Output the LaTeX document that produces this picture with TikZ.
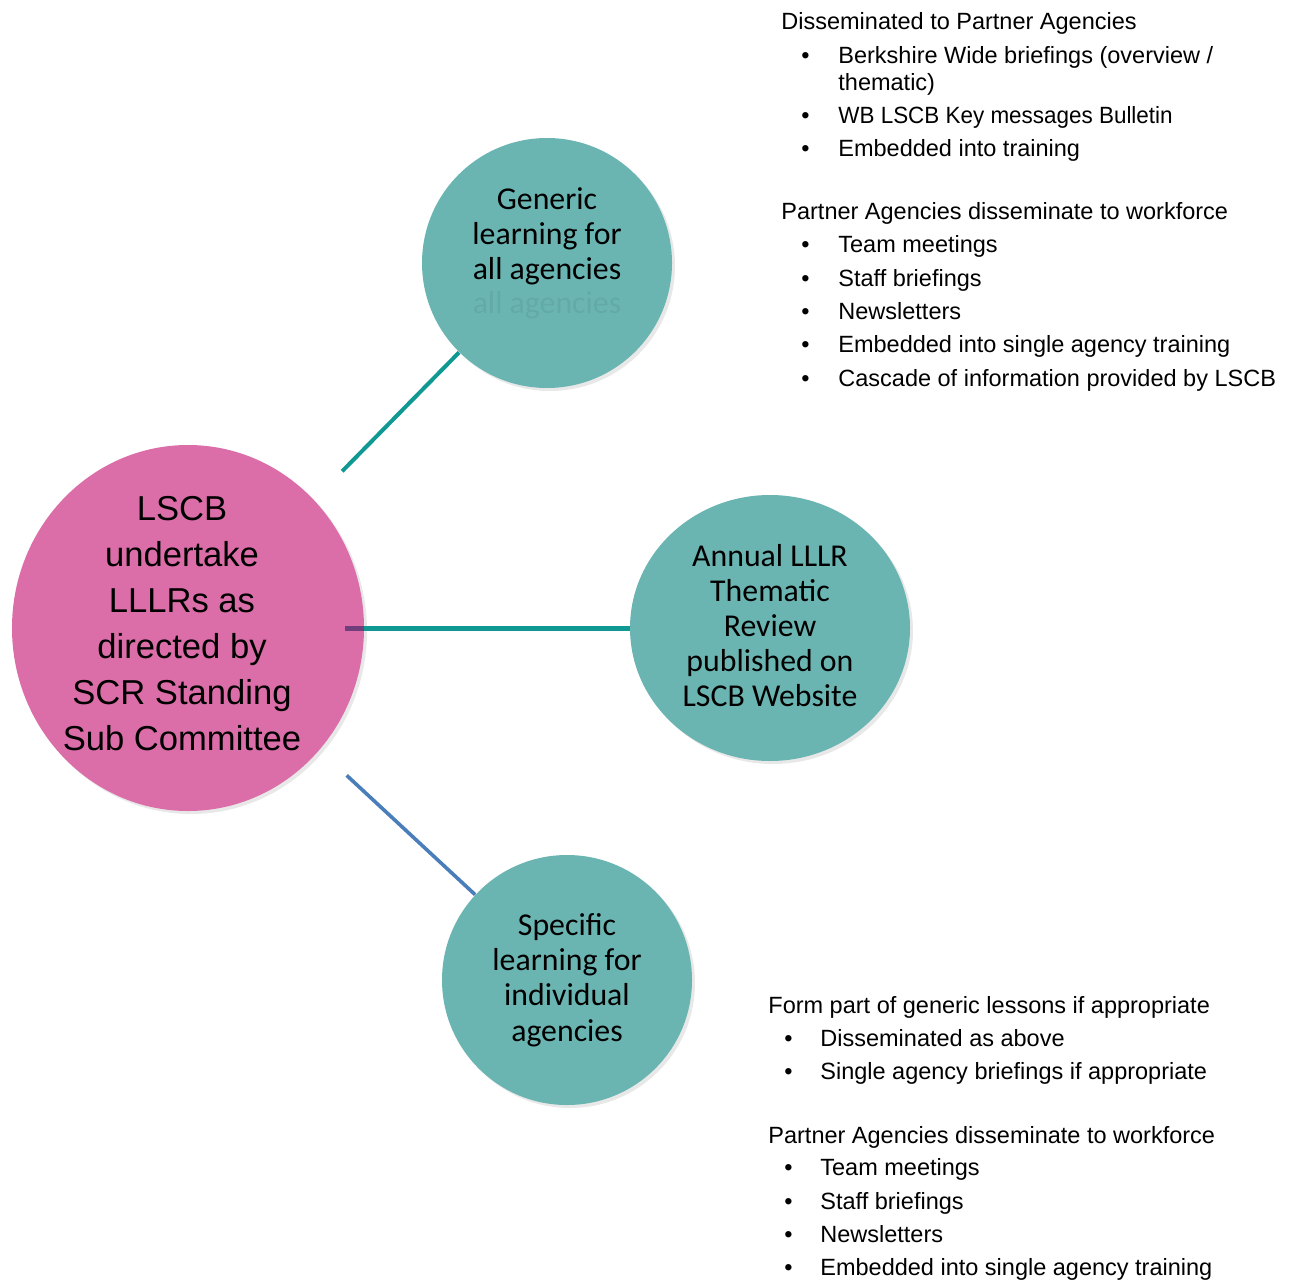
\documentclass[tikz,border=0pt]{standalone}
\usepackage{fontspec}
\setmainfont{Liberation Sans}
\newfontfamily\discfont{Carlito}
\usetikzlibrary{shapes.geometric,shadows,positioning}
\definecolor{discteal}{RGB}{106,181,178}
\definecolor{discpink}{RGB}{219,110,168}
\definecolor{lineteal}{RGB}{16,153,147}
\definecolor{lineblue}{RGB}{74,126,187}
\definecolor{linepurple}{RGB}{112,62,122}

\newcommand{\topbullet}{\hspace*{10pt}\makebox[18.5pt][l]{\textbullet}}
\newcommand{\lowbullet}{\hspace*{8pt}\makebox[18pt][l]{\textbullet}}

\begin{document}
\begin{tikzpicture}
    [x=0.5pt,y=-0.5pt,
    disc/.style={
      ellipse,
      inner sep=0pt,
      draw=none,fill=#1,
      drop shadow={shadow xshift=1.5pt,shadow yshift=-1.5pt,opacity=0.18}
      },
    disc/.default=discteal,
    disctext/.style={
      align=center,
      inner sep=0pt,
      font=\discfont\fontsize{15.9}{17.6}\selectfont
      },
    note/.style={
      align=left,
      inner sep=0pt,
      anchor=north west,
      font=\fontsize{11.75}{13.5}\selectfont
      },
    link/.style={line width=2pt,color=#1},
    link/.default=lineteal]

    \useasboundingbox (0,0) rectangle (1294,1279);

    % circles
    \node (lscb)    [disc=discpink, minimum width=176pt, minimum height=183pt] at (188,628) {};
    \node (generic) [disc, minimum size=125pt] at (547,263) {};
    \node (annual)  [disc, minimum width=140pt, minimum height=133pt] at (770,628) {};
    \node (specific)[disc, minimum size=125pt, disctext] at (567,980)
                    {Specific\\learning for\\individual\\agencies};

    % texts on the circles
    \node (lscbtext)    [align=center, inner sep=0pt, font=\fontsize{17.3}{23}\selectfont]
                        at ([xshift=-3pt,yshift=2.3pt]lscb.center)
                        {LSCB\\undertake\\LLLRs as\\directed by\\SCR Standing\\Sub Committee};
    \node (generictext) [disctext] at ([yshift=13.5pt]generic.center)
                        {Generic\\learning for\\all agencies};
    \node (genericghost)[disctext, text opacity=0.06, below=3pt of generictext.south]
                        {all agencies};
    \node (annualtext)  [disctext] at ([yshift=1.2pt]annual.center)
                        {Annual LLLR\\Thematic\\Review\\published on\\LSCB Website};

    % connectors
    \draw[link, shorten <=20pt] (lscb) -- (generic);
    \coordinate (stub) at ([xshift=-9.5pt]lscb.east);
    \draw[link=linepurple, line width=2.5pt] (stub) -- (lscb.east);
    \draw[link, line width=2.5pt] (lscb.east) -- (annual.west);
    \draw[link=lineblue, line width=1.8pt, shorten <=18.5pt] (lscb) -- (specific);

    % notes
    \node (genericnotes) [note] at (781,12.5) {Disseminated to Partner Agencies\\[3.1pt]
      \topbullet Berkshire Wide briefings (overview /\\
      \hspace*{28.5pt}thematic)\\[3.15pt]
      \topbullet \scalebox{0.955}[1]{WB LSCB Key messages Bulletin}\\[3.15pt]
      \topbullet Embedded into training\\[17.9pt]
      Partner Agencies disseminate to workforce\\[3.15pt]
      \topbullet Team meetings\\[3.15pt]
      \topbullet Staff briefings\\[3.15pt]
      \topbullet Newsletters\\[3.15pt]
      \topbullet Embedded into single agency training\\[3.15pt]
      \topbullet Cascade of information provided by LSCB};

    \node (specificnotes) [note] at (768,996.5) {Form part of generic lessons if appropriate\\[3pt]
      \lowbullet Disseminated as above\\[3pt]
      \lowbullet Single agency briefings if appropriate\\[18.5pt]
      Partner Agencies disseminate to workforce\\[2.5pt]
      \lowbullet Team meetings\\[3.2pt]
      \lowbullet Staff briefings\\[3.2pt]
      \lowbullet Newsletters\\[3pt]
      \lowbullet Embedded into single agency training};

  \end{tikzpicture}
\end{document}
